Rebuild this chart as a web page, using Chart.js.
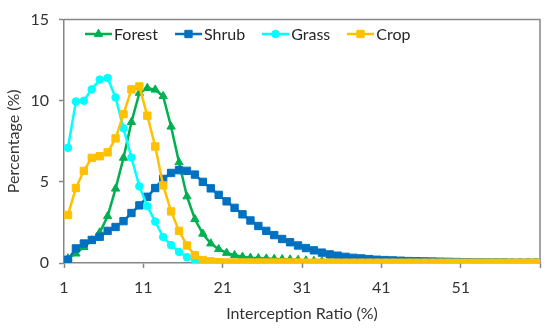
<!DOCTYPE html>
<html>
<head>
<meta charset="utf-8">
<script src="https://cdn.jsdelivr.net/npm/chart.js@4.4.1/dist/chart.umd.min.js"></script>
<style>
html,body{margin:0;padding:0;background:#fff;}
#wrap{position:relative;width:550px;height:328px;}
#legend{position:absolute;left:85px;top:24px;display:flex;align-items:center;font-family:Lato,"Open Sans",sans-serif;font-size:16px;color:#262626;line-height:19px;}
.item{display:flex;align-items:center;margin-right:17px;}
.item canvas{margin-right:2px;display:block;}
</style>
</head>
<body>
<div id="wrap"><canvas id="c" width="550" height="328"></canvas><div id="legend"></div></div>
<script>
// Bin centres of the interception ratio (%)
const xPositions = [1.5,2.5,3.5,4.5,5.5,6.5,7.5,8.5,9.5,10.5,
  11.5,12.5,13.5,14.5,15.5,16.5,17.5,18.5,19.5,20.5,
  21.5,22.5,23.5,24.5,25.5,26.5,27.5,28.5,29.5,30.5,
  31.5,32.5,33.5,34.5,35.5,36.5,37.5,38.5,39.5,40.5,
  41.5,42.5,43.5,44.5,45.5,46.5,47.5,48.5,49.5,50.5,
  51.5,52.5,53.5,54.5,55.5,56.5,57.5,58.5,59.5,60.5];

const seriesNames = ['Forest','Shrub','Grass','Crop'];

const forest = [0.28,0.58,0.98,1.38,1.88,2.88,4.58,6.48,8.68,10.48,
  10.78,10.68,10.28,8.4,6.2,4.1,2.7,1.8,1.2,0.85,
  0.62,0.48,0.38,0.32,0.29,0.27,0.25,0.23,0.21,0.18,
  0.15,0.12,0.1,0.08,0.06,0.05,0.04,0.03,0.03,0.02,
  0.02,0.02,0.01,0.01,0.01,0.01,0.01,0.01,0.01,0.01,
  0.01,0.01,0.01,0.01,0.01,0.01,0.01,0.01,0.01,0.01];

const shrub = [0.2,0.9,1.2,1.42,1.62,1.98,2.22,2.58,3.08,3.55,
  4.08,4.62,5.18,5.55,5.72,5.68,5.45,5.0,4.6,4.2,
  3.8,3.4,3.0,2.62,2.28,1.98,1.72,1.48,1.28,1.08,
  0.92,0.78,0.64,0.53,0.45,0.38,0.32,0.28,0.24,0.2,
  0.18,0.16,0.14,0.12,0.11,0.1,0.09,0.08,0.07,0.06,
  0.05,0.04,0.04,0.03,0.03,0.03,0.02,0.02,0.02,0.02];

const grass = [7.1,9.95,10.0,10.7,11.3,11.4,10.2,8.3,6.5,4.72,
  3.5,2.55,1.6,1.1,0.68,0.36,0.18,0.08,0.04,0.02,
  0.01,0.01,0,0,0,0,0,0,0,0,
  0,0,0,0,0,0,0,0,0,0,
  0,0,0,0,0,0,0,0,0,0,
  0,0,0,0,0,0,0,0,0,0];

const crop = [2.96,4.62,5.68,6.48,6.58,6.82,7.68,9.18,10.7,10.88,
  9.08,7.18,4.78,3.18,1.98,1.08,0.48,0.18,0.1,0.05,
  0.03,0.03,0.03,0.03,0.03,0.03,0.03,0.03,0.03,0.03,
  0.02,0.02,0.02,0.02,0.02,0.02,0.02,0.02,0.02,0.02,
  0.02,0.02,0.02,0.02,0.02,0.02,0.02,0.02,0.02,0.02,
  0.02,0.02,0.02,0.02,0.02,0.02,0.02,0.02,0.02,0.02];

const xTickValues = [1,11,21,31,41,51,61];
const xTickLabels = ['1','11','21','31','41','51',''];
const yTickValues = [0,5,10,15];

const seriesValues = [forest, shrub, grass, crop];
const seriesColors = ['#00B050','#0070C0','#00FFFF','#FFC000'];
const seriesMarkers = ['triangle','rect','circle','rect'];
const markerRadius = [4.8,5.2,3.8,5.2];

const axisColor = '#868686';
const textColor = '#333333';
const fontFamily = 'Lato, "Open Sans", sans-serif';

function toPoints(vals){ return vals.map((v,i)=>({x:xPositions[i], y:v})); }

const datasets = seriesNames.map((name,i)=>({
  label: name,
  data: toPoints(seriesValues[i]),
  borderColor: seriesColors[i],
  backgroundColor: seriesColors[i],
  pointBackgroundColor: seriesColors[i],
  pointBorderColor: seriesColors[i],
  pointBorderWidth: 1,
  pointStyle: seriesMarkers[i],
  pointRadius: markerRadius[i],
  borderWidth: 2.5,
  tension: 0,
  order: seriesNames.length - i
}));

const framePlugin = {
  id: 'frame',
  beforeDatasetsDraw(chart){
    const {ctx, chartArea:{left,top,right,bottom}} = chart;
    ctx.save();
    ctx.strokeStyle = axisColor;
    ctx.lineWidth = 1.5;
    ctx.beginPath();
    ctx.moveTo(left, top);
    ctx.lineTo(right, top);
    ctx.lineTo(right, bottom);
    ctx.stroke();
    ctx.restore();
  }
};

const chart = new Chart(document.getElementById('c'), {
  type: 'line',
  data: { datasets },
  plugins: [framePlugin],
  options: {
    responsive: false,
    animation: false,
    devicePixelRatio: 1,
    layout: { padding: { left: 0, right: 6, top: 13, bottom: 0 } },
    plugins: { legend: { display: false }, tooltip: { enabled: false } },
    scales: {
      x: {
        type: 'linear',
        min: 1, max: 61,
        afterBuildTicks(scale){ scale.ticks = xTickValues.map(v=>({value:v})); },
        afterFit(scale){ scale.height = 65; },
        ticks: {
          autoSkip: false,
          maxRotation: 0,
          padding: 10,
          color: textColor,
          font: { family: fontFamily, size: 16 },
          callback(value){ const k = xTickValues.indexOf(value); return k >= 0 ? xTickLabels[k] : ''; }
        },
        grid: { drawOnChartArea: false, drawTicks: true, tickLength: 5, tickColor: axisColor, tickWidth: 1.5 },
        border: { display: true, color: axisColor, width: 1.5 },
        title: { display: true, text: 'Interception Ratio (%)', color: textColor, font: { family: fontFamily, size: 16 }, padding: { top: 0, bottom: 5 } }
      },
      y: {
        min: 0, max: 15,
        afterBuildTicks(scale){ scale.ticks = yTickValues.map(v=>({value:v})); },
        afterFit(scale){ scale.width = 64; },
        ticks: { padding: 10, color: textColor, font: { family: fontFamily, size: 16 } },
        grid: { drawOnChartArea: false, drawTicks: true, tickLength: 5, tickColor: axisColor, tickWidth: 1.5 },
        border: { display: true, color: axisColor, width: 1.5 },
        title: { display: true, text: 'Percentage (%)', color: textColor, font: { family: fontFamily, size: 16 }, padding: { top: 4, bottom: 0 } }
      }
    }
  }
});

// HTML legend: line with marker, then the series name
function drawSymbol(cv, color, style, r){
  const ctx = cv.getContext('2d');
  const w = cv.width, h = cv.height, cx = w/2, cy = h/2;
  ctx.strokeStyle = color; ctx.fillStyle = color; ctx.lineWidth = 2.5;
  ctx.beginPath(); ctx.moveTo(0, cy); ctx.lineTo(w, cy); ctx.stroke();
  ctx.beginPath();
  if (style === 'triangle') {
    for (let k=0;k<3;k++){ const a = k*2*Math.PI/3; const px = cx + Math.sin(a)*r, py = cy - Math.cos(a)*r; k?ctx.lineTo(px,py):ctx.moveTo(px,py); }
    ctx.closePath();
  } else if (style === 'rect') {
    const s = r*Math.SQRT1_2; ctx.rect(cx-s, cy-s, 2*s, 2*s);
  } else {
    ctx.arc(cx, cy, r, 0, 2*Math.PI);
  }
  ctx.fill(); ctx.lineWidth = 1; ctx.stroke();
}
const legendEl = document.getElementById('legend');
chart.data.datasets.forEach((ds,i)=>{
  const item = document.createElement('div'); item.className = 'item';
  const cv = document.createElement('canvas'); cv.width = 27; cv.height = 12;
  drawSymbol(cv, seriesColors[i], seriesMarkers[i], markerRadius[i]);
  const span = document.createElement('span'); span.textContent = ds.label;
  item.appendChild(cv); item.appendChild(span); legendEl.appendChild(item);
});
</script>
</body>
</html>
